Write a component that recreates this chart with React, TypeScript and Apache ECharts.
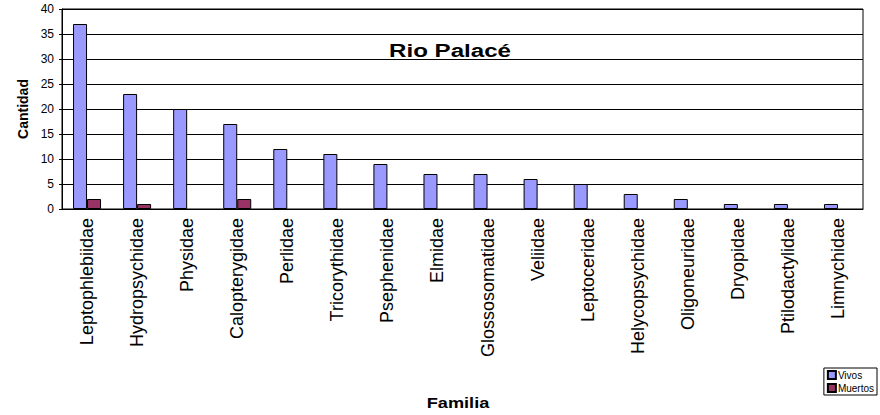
import React, { useEffect, useRef } from "react";
import * as echarts from "echarts";

const categories = [
  "Leptophlebiidae", "Hydropsychidae", "Physidae", "Calopterygidae", "Perlidae",
  "Tricorythidae", "Psephenidae", "Elmidae", "Glossosomatidae", "Veliidae",
  "Leptoceridae", "Helycopsychidae", "Oligoneuridae", "Dryopidae", "Ptilodactylidae", "Limnychidae",
];
const vivos = [37, 23, 20, 17, 12, 11, 9, 7, 7, 6, 5, 3, 2, 1, 1, 1];
const muertos = [2, 1, 0, 2, 0, 0, 0, 0, 0, 0, 0, 0, 0, 0, 0, 0];
const yTicks = { min: 0, max: 40, interval: 5 };
const titleText = "Rio Palacé";
const xName = "Familia";
const yName = "Cantidad";

export default function App() {
  const ref = useRef<HTMLDivElement>(null);
  useEffect(() => {
    document.body.style.margin = "0";
    const chart = echarts.init(ref.current!, undefined, { renderer: "svg" });
    const font = "Liberation Sans, Arial, sans-serif";
    chart.setOption({
      animation: false,
      backgroundColor: "#ffffff",
      textStyle: { fontFamily: font },
      graphic: [
        {
          type: "text",
          x: 450,
          y: 50,
          scaleX: 1.27,
          style: {
            text: titleText,
            fontSize: 19,
            fontWeight: "bold",
            fontFamily: font,
            fill: "#000",
            align: "center",
            verticalAlign: "middle",
          },
        },
        {
          type: "text",
          x: 458,
          y: 403,
          scaleX: 1.3,
          style: {
            text: xName,
            fontSize: 14,
            fontWeight: "bold",
            fontFamily: font,
            fill: "#000",
            align: "center",
            verticalAlign: "middle",
          },
        },
      ],
      legend: {
        orient: "vertical",
        right: 3,
        top: 368,
        itemWidth: 8,
        itemHeight: 8,
        itemGap: 3,
        padding: [2, 3, 2, 3],
        borderColor: "#000",
        borderWidth: 1,
        textStyle: { fontSize: 10, color: "#000", fontFamily: font, padding: [0, 0, 0, -3] },
        data: [
          { name: "Vivos", icon: "rect" },
          { name: "Muertos", icon: "rect" },
        ],
      },
      grid: {
        left: 62,
        right: 17,
        top: 9,
        height: 200,
        show: true,
        borderColor: "#000",
        borderWidth: 1,
        backgroundColor: "transparent",
      },
      xAxis: {
        type: "category",
        data: categories,
        axisLine: { lineStyle: { color: "#000", width: 1 } },
        axisTick: { show: false },
        axisLabel: {
          rotate: 90,
          interval: 0,
          fontSize: 18,
          color: "#000",
          margin: 9,
          fontFamily: font,
        },
      },
      yAxis: {
        type: "value",
        min: yTicks.min,
        max: yTicks.max,
        interval: yTicks.interval,
        name: yName,
        nameLocation: "middle",
        nameGap: 26,
        nameRotate: 90,
        nameTextStyle: { fontSize: 14, fontWeight: "bold", color: "#000", fontFamily: font },
        axisLine: { show: true, lineStyle: { color: "#000", width: 1 } },
        axisTick: { show: true, length: 3, lineStyle: { color: "#000" } },
        axisLabel: { fontSize: 12, color: "#000", margin: 8, fontFamily: font },
        splitLine: { show: true, lineStyle: { color: "#000", width: 1 } },
      },
      series: [
        {
          name: "Vivos",
          type: "bar",
          data: vivos,
          barWidth: 14,
          barGap: "0%",
          itemStyle: { color: "#9999FF", borderColor: "#000", borderWidth: 1 },
        },
        {
          name: "Muertos",
          type: "bar",
          data: muertos.map((v) => (v === 0 ? "-" : v)),
          barWidth: 14,
          barGap: "0%",
          itemStyle: { color: "#993366", borderColor: "#000", borderWidth: 1 },
        },
      ],
    });
    return () => chart.dispose();
  }, []);
  return <div ref={ref} style={{ width: 880, height: 415 }} />;
}
